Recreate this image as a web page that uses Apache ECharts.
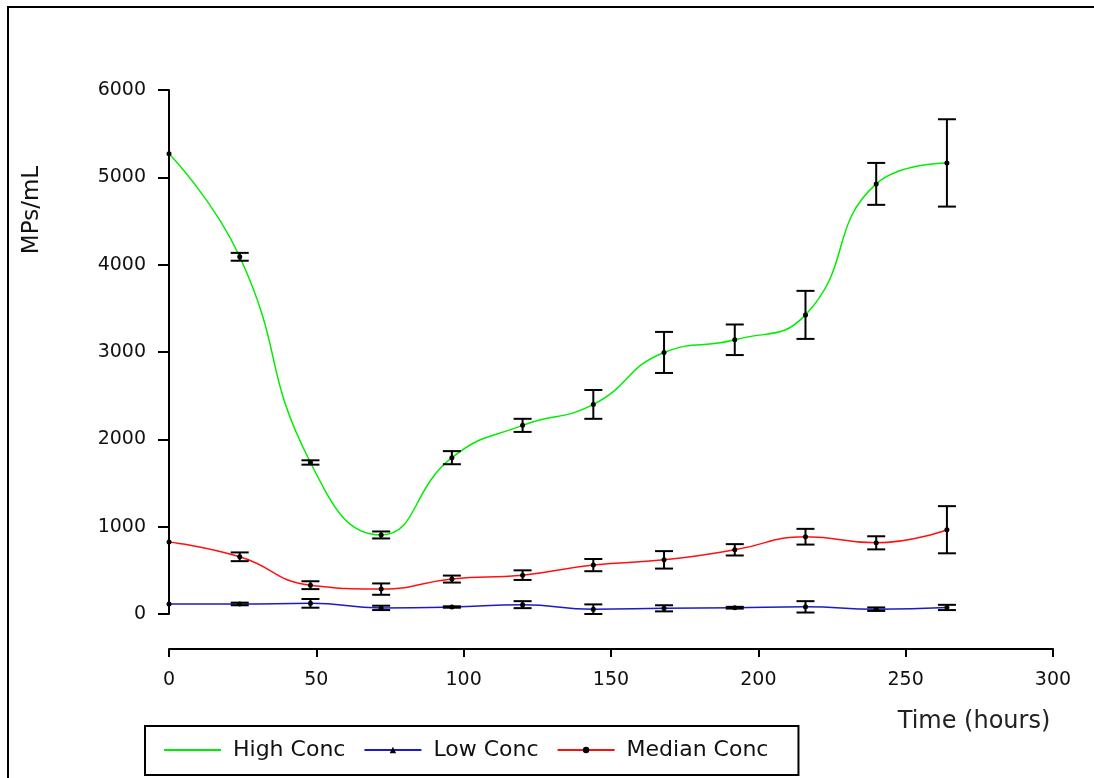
<!DOCTYPE html>
<html>
<head>
<meta charset="utf-8">
<script src="https://cdn.jsdelivr.net/npm/echarts@6/dist/echarts.min.js"></script>
<style>
  html, body { margin: 0; padding: 0; background: #fff; }
  #container { width: 1094px; height: 778px; }
</style>
</head>
<body>
<div id="container"></div>
<script>
var hours = [0, 24, 48, 72, 96, 120, 144, 168, 192, 216, 240, 264];

var highConc = [5270, 4090, 1735, 905, 1790, 2160, 2400, 2995, 3140, 3425, 4925, 5165];
var highErr = [0, 45, 25, 40, 75, 75, 165, 235, 175, 275, 240, 500];

var medianConc = [825, 655, 330, 285, 400, 445, 560, 620, 735, 885, 815, 965];
var medianErr = [0, 50, 45, 65, 40, 55, 70, 100, 65, 90, 75, 270];

var lowConc = [115, 115, 122, 70, 80, 107, 55, 65, 72, 82, 55, 75];
var lowErr = [0, 15, 50, 25, 8, 40, 55, 35, 10, 65, 20, 30];

var xTicks = { min: 0, max: 300, interval: 50 };
var yTicks = { min: 0, max: 6000, interval: 1000 };

var dom = document.getElementById('container');
var myChart = echarts.init(dom, null, { renderer: 'canvas' });
var font = 'DejaVu Sans';

function pairs(ys) {
  return hours.map(function (h, i) { return [h, ys[i]]; });
}

function errRows(ys, errs) {
  return hours.map(function (h, i) { return [h, ys[i], errs[i]]; });
}

// draws the I-beam and the centre dot for each point
function renderErr(params, api) {
  var x = api.value(0);
  var y = api.value(1);
  var e = api.value(2);
  var c = api.coord([x, y]);
  var top = api.coord([x, y + e]);
  var bot = api.coord([x, y - e]);
  var cap = 9;
  var st = { stroke: '#000', lineWidth: 2 };
  var kids = [];
  if (e > 0) {
    kids.push({ type: 'line', shape: { x1: c[0], y1: top[1], x2: c[0], y2: bot[1] }, style: st });
    kids.push({ type: 'line', shape: { x1: c[0] - cap, y1: top[1], x2: c[0] + cap, y2: top[1] }, style: st });
    kids.push({ type: 'line', shape: { x1: c[0] - cap, y1: bot[1], x2: c[0] + cap, y2: bot[1] }, style: st });
  }
  kids.push({ type: 'circle', shape: { cx: c[0], cy: c[1], r: 2.5 }, style: { fill: '#000' } });
  return { type: 'group', children: kids };
}

function errSeries(ys, errs) {
  return {
    type: 'custom',
    renderItem: renderErr,
    data: errRows(ys, errs),
    encode: { x: 0, y: 1 },
    z: 5,
    silent: true
  };
}

var option = {
  animation: false,
  grid: { left: 169, right: 41, top: 90, bottom: 164 },
  graphic: [
    {
      type: 'rect',
      shape: { x: 8, y: 7, width: 1200, height: 900 },
      style: { fill: 'none', stroke: '#000', lineWidth: 2 }
    },
    {
      type: 'text',
      x: 32, y: 210,
      rotation: Math.PI / 2,
      style: {
        text: 'MPs/mL', font: '23px "DejaVu Sans"', fill: '#111',
        textAlign: 'center', textVerticalAlign: 'middle'
      }
    },
    {
      type: 'text',
      x: 974, y: 722,
      style: {
        text: 'Time (hours)', font: '24px "DejaVu Sans"', fill: '#222',
        textAlign: 'center', textVerticalAlign: 'middle'
      }
    }
  ],
  legend: {
    left: 145,
    top: 726,
    orient: 'horizontal',
    data: [
      { name: 'High Conc', itemStyle: { opacity: 0 } },
      'Low Conc',
      'Median Conc'
    ],
    itemWidth: 57,
    itemHeight: 8,
    itemGap: 18,
    padding: [13, 30, 14, 18],
    borderColor: '#000',
    borderWidth: 2,
    borderRadius: 0,
    textStyle: {
      fontFamily: font, fontSize: 22, color: '#111',
      padding: [0, 0, 0, 7]
    }
  },
  xAxis: {
    type: 'value',
    min: xTicks.min, max: xTicks.max, interval: xTicks.interval,
    offset: 35,
    splitLine: { show: false },
    axisLine: { show: true, onZero: false, lineStyle: { color: '#000', width: 2 } },
    axisTick: { show: true, length: 8, inside: false, lineStyle: { color: '#000', width: 2 } },
    axisLabel: { margin: 22, fontFamily: font, fontSize: 19, color: '#111' }
  },
  yAxis: {
    type: 'value',
    min: yTicks.min, max: yTicks.max, interval: yTicks.interval,
    splitLine: { show: false },
    axisLine: { show: true, lineStyle: { color: '#000', width: 2 } },
    axisTick: { show: true, length: 11, inside: false, lineStyle: { color: '#000', width: 2 } },
    axisLabel: {
      margin: 23, fontFamily: font, fontSize: 19, color: '#111',
      formatter: function (v) { return String(v); }
    }
  },
  series: [
    {
      name: 'High Conc',
      type: 'line',
      data: pairs(highConc),
      smooth: 0.5,
      symbol: 'none',
      lineStyle: { color: '#00ee00', width: 1.5 },
      itemStyle: { color: '#00ee00' }
    },
    {
      name: 'Low Conc',
      type: 'line',
      data: pairs(lowConc),
      smooth: 0.5,
      symbol: 'triangle',
      symbolSize: 4,
      lineStyle: { color: '#1a1acc', width: 1.5 },
      itemStyle: { color: '#000' }
    },
    {
      name: 'Median Conc',
      type: 'line',
      data: pairs(medianConc),
      smooth: 0.5,
      symbol: 'circle',
      symbolSize: 4,
      lineStyle: { color: '#ff1010', width: 1.5 },
      itemStyle: { color: '#000' }
    },
    errSeries(highConc, highErr),
    errSeries(lowConc, lowErr),
    errSeries(medianConc, medianErr)
  ]
};

myChart.setOption(option);
window.addEventListener('resize', myChart.resize);
</script>
</body>
</html>
